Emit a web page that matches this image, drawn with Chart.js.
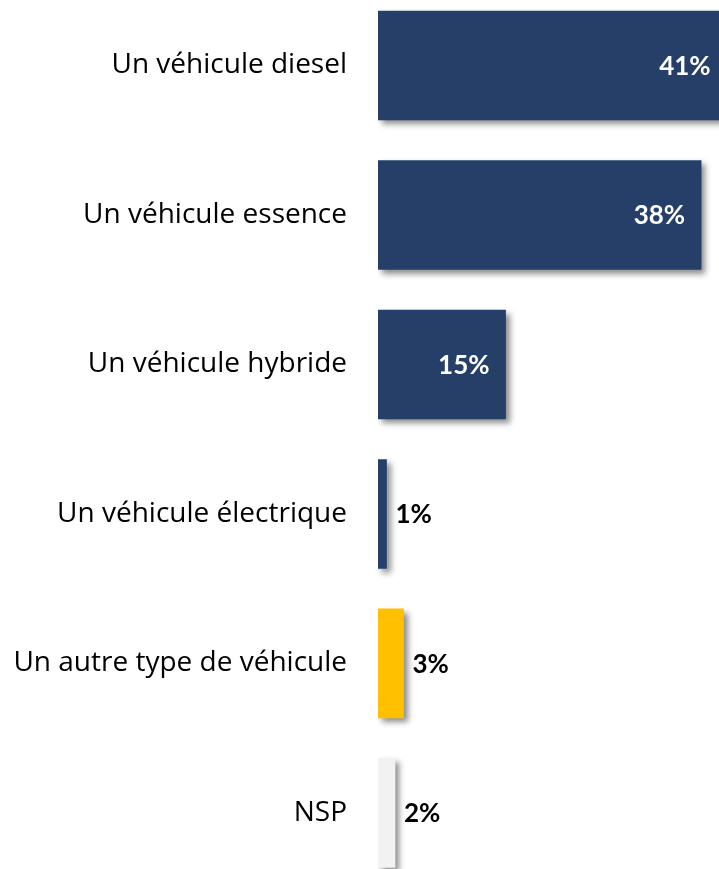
<!DOCTYPE html>
<html>
<head>
<meta charset="utf-8">
<script src="https://cdn.jsdelivr.net/npm/chart.js"></script>
<style>
  html, body { margin: 0; padding: 0; background: #fff; }
  #wrap { width: 719px; height: 869px; }
</style>
</head>
<body>
<div id="wrap"><canvas id="vehiculeChart"></canvas></div>
<script>
// données
var categories = ['Un véhicule diesel', 'Un véhicule essence', 'Un véhicule hybride',
                  'Un véhicule électrique', 'Un autre type de véhicule', 'NSP'];
var percents = [41, 38, 15, 1, 3, 2];
var barColors = ['#253F69', '#253F69', '#253F69', '#253F69', '#FFC000', '#F2F2F2'];

var points = percents.map(function (v, i) { return { x: v, y: i }; });

// ombre portée + étiquettes de valeur
var barDecor = {
    id: 'barDecor',
    beforeDatasetsDraw: function (chart) {
        var c = chart.ctx;
        c.save();
        c.shadowColor = 'rgba(0, 0, 0, 0.45)';
        c.shadowBlur = 6;
        c.shadowOffsetX = 4;
        c.shadowOffsetY = 4;
    },
    afterDatasetsDraw: function (chart) {
        var c = chart.ctx;
        c.restore();
        c.save();
        c.font = "bold 26px Lato, 'Open Sans', sans-serif";
        c.textBaseline = 'middle';
        chart.getDatasetMeta(0).data.forEach(function (bar, i) {
            var v = percents[i];
            if (v >= 10) {
                c.fillStyle = '#ffffff';
                c.textAlign = 'right';
                c.fillText(v + '%', bar.x - 16, bar.y + 1);
            } else {
                c.fillStyle = '#000000';
                c.textAlign = 'left';
                c.fillText(v + '%', bar.x + 9, bar.y + 1);
            }
        });
        c.restore();
    }
};

var chart = new Chart(document.getElementById('vehiculeChart'), {
    type: 'bar',
    data: {
        datasets: [{
            data: points,
            backgroundColor: barColors,
            borderWidth: 0,
            barThickness: 109
        }]
    },
    options: {
        indexAxis: 'y',
        responsive: true,
        maintainAspectRatio: false,
        animation: false,
        layout: { padding: 0 },
        scales: {
            x: {
                display: false,
                min: 0,
                max: 40.1
            },
            y: {
                type: 'linear',
                reverse: true,
                offset: false,
                min: -0.438,
                max: 5.375,
                grid: { display: false, drawTicks: false, offset: false },
                border: { display: false },
                afterBuildTicks: function (scale) {
                    scale.ticks = categories.map(function (c, i) { return { value: i }; });
                },
                afterFit: function (scale) {
                    scale.width = 378;
                    scale.paddingTop = 0;
                    scale.paddingBottom = 0;
                },
                ticks: {
                    padding: 31,
                    color: '#000000',
                    autoSkip: false,
                    font: { family: "'Open Sans', sans-serif", size: 28 },
                    callback: function (value) { return categories[value]; }
                }
            }
        },
        plugins: {
            legend: { display: false },
            tooltip: { enabled: false }
        }
    },
    plugins: [barDecor]
});
</script>
</body>
</html>
